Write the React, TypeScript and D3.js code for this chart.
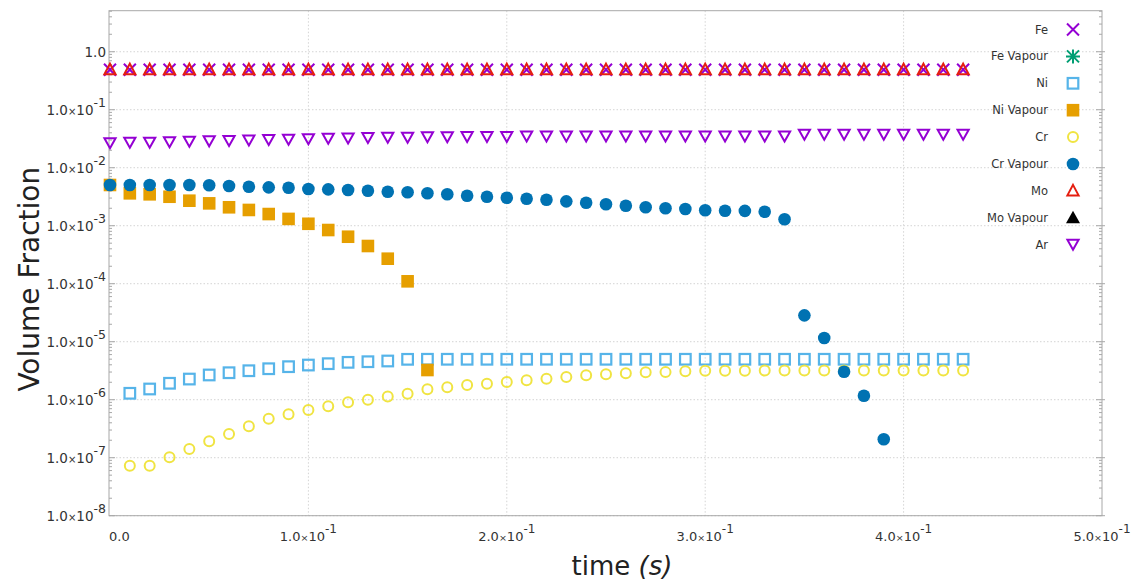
import React from "react";
import * as d3 from "d3";

const times = [0, 0.01, 0.02, 0.03, 0.04, 0.05, 0.06, 0.07, 0.08, 0.09, 0.1, 0.11, 0.12, 0.13, 0.14, 0.15, 0.16, 0.17, 0.18, 0.19, 0.2, 0.21, 0.22, 0.23, 0.24, 0.25, 0.26, 0.27, 0.28, 0.29, 0.3, 0.31, 0.32, 0.33, 0.34, 0.35, 0.36, 0.37, 0.38, 0.39, 0.4, 0.41, 0.42, 0.43];

const feValues = [0.49, 0.49, 0.49, 0.49, 0.49, 0.49, 0.49, 0.49, 0.49, 0.49, 0.49, 0.49, 0.49, 0.49, 0.49, 0.49, 0.49, 0.49, 0.49, 0.49, 0.49, 0.49, 0.49, 0.49, 0.49, 0.49, 0.49, 0.49, 0.49, 0.49, 0.49, 0.49, 0.49, 0.49, 0.49, 0.49, 0.49, 0.49, 0.49, 0.49, 0.49, 0.49, 0.49, 0.49];
const feVapourValues: (number | null)[] = [];
const niValues = [null, 1.29e-6, 1.53e-6, 1.92e-6, 2.27e-6, 2.67e-6, 2.92e-6, 3.16e-6, 3.42e-6, 3.71e-6, 3.96e-6, 4.18e-6, 4.41e-6, 4.52e-6, 4.65e-6, 4.97e-6, 4.98e-6, 4.98e-6, 4.98e-6, 4.98e-6, 4.98e-6, 4.98e-6, 4.98e-6, 4.98e-6, 4.98e-6, 4.98e-6, 4.98e-6, 4.98e-6, 4.98e-6, 4.98e-6, 4.98e-6, 4.98e-6, 4.98e-6, 4.98e-6, 4.98e-6, 4.98e-6, 4.98e-6, 4.98e-6, 4.98e-6, 4.98e-6, 4.98e-6, 4.98e-6, 4.98e-6, 4.98e-6];
const niVapourValues = [5.04e-3, 3.62e-3, 3.48e-3, 3.16e-3, 2.7e-3, 2.43e-3, 2.08e-3, 1.87e-3, 1.59e-3, 1.31e-3, 1.08e-3, 8.43e-4, 6.46e-4, 4.47e-4, 2.7e-4, 1.1e-4, 3.25e-6, null, null, null, null, null, null, null, null, null, null, null, null, null, null, null, null, null, null, null, null, null, null, null, null, null, null, null];
const crValues = [null, 7.28e-8, 7.28e-8, 1.02e-7, 1.41e-7, 1.92e-7, 2.56e-7, 3.48e-7, 4.7e-7, 5.6e-7, 6.64e-7, 7.69e-7, 9.02e-7, 1.0e-6, 1.14e-6, 1.27e-6, 1.51e-6, 1.64e-6, 1.79e-6, 1.89e-6, 2.02e-6, 2.16e-6, 2.3e-6, 2.46e-6, 2.63e-6, 2.74e-6, 2.85e-6, 2.97e-6, 2.99e-6, 3.09e-6, 3.16e-6, 3.17e-6, 3.17e-6, 3.18e-6, 3.18e-6, 3.19e-6, 3.19e-6, 3.19e-6, 3.2e-6, 3.2e-6, 3.2e-6, 3.2e-6, 3.2e-6, 3.2e-6];
const crVapourValues = [5.04e-3, 5.04e-3, 5.04e-3, 5.04e-3, 5.04e-3, 5.0e-3, 4.83e-3, 4.7e-3, 4.59e-3, 4.52e-3, 4.29e-3, 4.24e-3, 4.13e-3, 4.01e-3, 3.86e-3, 3.77e-3, 3.62e-3, 3.48e-3, 3.29e-3, 3.16e-3, 3.04e-3, 2.92e-3, 2.81e-3, 2.63e-3, 2.49e-3, 2.34e-3, 2.21e-3, 2.08e-3, 2.0e-3, 1.94e-3, 1.85e-3, 1.81e-3, 1.8e-3, 1.74e-3, 1.29e-3, 2.85e-5, 1.16e-5, 3.04e-6, 1.17e-6, 2.08e-7, null, null, null, null];
const moValues = [0.49, 0.49, 0.49, 0.49, 0.49, 0.49, 0.49, 0.49, 0.49, 0.49, 0.49, 0.49, 0.49, 0.49, 0.49, 0.49, 0.49, 0.49, 0.49, 0.49, 0.49, 0.49, 0.49, 0.49, 0.49, 0.49, 0.49, 0.49, 0.49, 0.49, 0.49, 0.49, 0.49, 0.49, 0.49, 0.49, 0.49, 0.49, 0.49, 0.49, 0.49, 0.49, 0.49, 0.49];
const moVapourValues: (number | null)[] = [];
const arValues = [0.0265, 0.027, 0.027, 0.0275, 0.028, 0.0285, 0.029, 0.0295, 0.03, 0.0305, 0.031, 0.0315, 0.032, 0.0325, 0.033, 0.033, 0.0335, 0.0335, 0.034, 0.034, 0.034, 0.0345, 0.0345, 0.0345, 0.0345, 0.0345, 0.0345, 0.0345, 0.0345, 0.0345, 0.0345, 0.0345, 0.0345, 0.0345, 0.0345, 0.037, 0.037, 0.037, 0.037, 0.037, 0.037, 0.037, 0.037, 0.037];

const seriesNames = ["Fe", "Fe Vapour", "Ni", "Ni Vapour", "Cr", "Cr Vapour", "Mo", "Mo Vapour", "Ar"];
const seriesValues = [feValues, feVapourValues, niValues, niVapourValues, crValues, crVapourValues, moValues, moVapourValues, arValues];
const seriesColors = ["#9400d3", "#009e73", "#56b4e9", "#e69f00", "#f0e442", "#0072b2", "#e51e10", "#000000", "#9400d3"];
const seriesMarkers = ["cross", "asterisk", "openSquare", "filledSquare", "openCircle", "filledCircle", "openTriangle", "filledTriangle", "openTriangleDown"];

const xTickValues = [0, 0.1, 0.2, 0.3, 0.4, 0.5];
const xTickMantissas = ["0.0", "1.0", "2.0", "3.0", "4.0", "5.0"];
const yTickExponents = [0, -1, -2, -3, -4, -5, -6, -7, -8];

const FONT = "'DejaVu Sans', sans-serif";

function Marker({ type, x, y, color }: { type: string; x: number; y: number; color: string }) {
  switch (type) {
    case "cross":
      return <path d={`M${x - 6},${y - 6}L${x + 6},${y + 6}M${x - 6},${y + 6}L${x + 6},${y - 6}`} stroke={color} strokeWidth={2} fill="none" />;
    case "asterisk":
      return (
        <path
          d={`M${x - 6},${y - 6}L${x + 6},${y + 6}M${x - 6},${y + 6}L${x + 6},${y - 6}M${x - 7},${y}L${x + 7},${y}M${x},${y - 7}L${x},${y + 7}`}
          stroke={color}
          strokeWidth={2}
          fill="none"
        />
      );
    case "openSquare":
      return <rect x={x - 5.3} y={y - 5.3} width={10.6} height={10.6} stroke={color} strokeWidth={2.2} fill="none" />;
    case "filledSquare":
      return <rect x={x - 6.3} y={y - 6.3} width={12.6} height={12.6} fill={color} />;
    case "openCircle":
      return <circle cx={x} cy={y} r={5} stroke={color} strokeWidth={2} fill="none" />;
    case "filledCircle":
      return <circle cx={x} cy={y} r={6.3} fill={color} />;
    case "openTriangle":
      return <path d={`M${x},${y - 6}L${x + 5.6},${y + 4.5}L${x - 5.6},${y + 4.5}Z`} stroke={color} strokeWidth={2} fill="none" strokeLinejoin="miter" />;
    case "filledTriangle":
      return <path d={`M${x},${y - 7}L${x + 7},${y + 5.5}L${x - 7},${y + 5.5}Z`} fill={color} />;
    case "openTriangleDown":
      return <path d={`M${x},${y + 5}L${x + 5.6},${y - 5}L${x - 5.6},${y - 5}Z`} stroke={color} strokeWidth={2} fill="none" />;
    default:
      return null;
  }
}

export default function App() {
  const W = 1132;
  const H = 580;
  const left = 109;
  const right = 1102;
  const top = 10.7;
  const bottom = 515.7;

  const x = d3.scaleLinear().domain([-0.0005, 0.5]).range([left, right]);
  const y = d3.scaleLog().domain([1e-8, 5.1]).range([bottom, top]);

  const minorTicks: number[] = [];
  for (let e = -8; e <= 0; e++) {
    for (let m = 2; m <= 9; m++) {
      const v = m * Math.pow(10, e);
      if (v <= 5.1) minorTicks.push(v);
    }
  }

  return (
    <svg width={W} height={H} style={{ position: "absolute", left: 0, top: 0, background: "#fff" }} fontFamily={FONT}>
      <rect x={0} y={0} width={W} height={H} fill="#fff" />
      {/* grid */}
      {yTickExponents.map((e) => (
        <line key={`gy${e}`} x1={left} x2={right} y1={y(Math.pow(10, e))} y2={y(Math.pow(10, e))} stroke="#d4d4d4" strokeWidth={1} strokeDasharray="1.5,2" />
      ))}
      {xTickValues.slice(1, 5).map((t) => (
        <line key={`gx${t}`} x1={x(t)} x2={x(t)} y1={top} y2={bottom} stroke="#d4d4d4" strokeWidth={1} strokeDasharray="1.5,2" />
      ))}
      {/* minor ticks */}
      {minorTicks.map((v, i) => (
        <g key={`mt${i}`} stroke="#a8a8a8" strokeWidth={1}>
          <line x1={left} x2={left + 3} y1={y(v)} y2={y(v)} />
          <line x1={right - 3} x2={right} y1={y(v)} y2={y(v)} />
        </g>
      ))}
      {yTickExponents.map((e) => (
        <g key={`mj${e}`} stroke="#a8a8a8" strokeWidth={1}>
          <line x1={left} x2={left + 6} y1={y(Math.pow(10, e))} y2={y(Math.pow(10, e))} />
          <line x1={right - 6} x2={right + 3} y1={y(Math.pow(10, e))} y2={y(Math.pow(10, e))} />
        </g>
      ))}
      {/* frame */}
      <rect x={left} y={top} width={right - left} height={bottom - top} fill="none" stroke="#a8a8a8" strokeWidth={1} />

      {/* y tick labels */}
      {yTickExponents.map((e) => (
        <text key={`yl${e}`} x={106} y={y(Math.pow(10, e)) + 4.8} textAnchor="end" fontSize={13.5} fill="#333">
          {e === 0 ? (
            "1.0"
          ) : (
            <>
              1.0<tspan fontSize={10}>×</tspan>10
              <tspan dy={-7.5} fontSize={12.5}>{`-${-e}`}</tspan>
            </>
          )}
        </text>
      ))}

      {/* x tick labels */}
      {xTickValues.map((t, i) => (
        <text key={`xl${i}`} x={i === 0 ? x(t) - 1 : x(t)} y={541} textAnchor={i === 0 ? "start" : "middle"} fontSize={13} fill="#333">
          {i === 0 ? (
            xTickMantissas[i]
          ) : (
            <>
              {xTickMantissas[i]}
              <tspan fontSize={9.5}>×</tspan>10
              <tspan dy={-8} fontSize={12}>-1</tspan>
            </>
          )}
        </text>
      ))}

      {/* axis titles */}
      <text transform={`translate(39,${(top + bottom) / 2 + 16}) rotate(-90)`} textAnchor="middle" fontSize={28} fill="#222">
        Volume Fraction
      </text>
      <text x={622} y={575} textAnchor="middle" fontSize={26} fill="#222">
        time <tspan fontStyle="italic">(s)</tspan>
      </text>

      {/* data */}
      {seriesValues.map((vals, si) => (
        <g key={`s${si}`}>
          {vals.map((v, i) =>
            v == null ? null : <Marker key={i} type={seriesMarkers[si]} x={x(times[i])} y={y(v)} color={seriesColors[si]} />
          )}
        </g>
      ))}

      {/* legend */}
      {seriesNames.map((name, i) => {
        const ly = 29.5 + i * 26.9;
        return (
          <g key={`lg${i}`}>
            <text x={1048} y={ly + 4} textAnchor="end" fontSize={11.5} fill="#333">
              {name}
            </text>
            <Marker type={seriesMarkers[i]} x={1073} y={ly} color={seriesColors[i]} />
          </g>
        );
      })}
    </svg>
  );
}
